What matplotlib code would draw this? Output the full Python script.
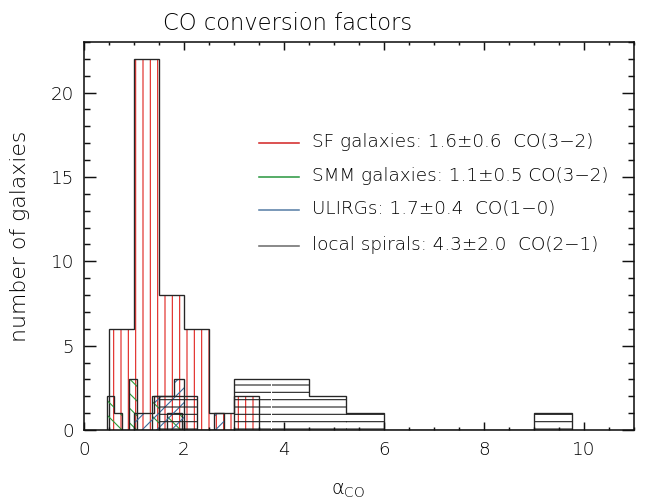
import numpy as np
import matplotlib
matplotlib.use("Agg")
import matplotlib.pyplot as plt
from matplotlib.ticker import MultipleLocator

# ---------------- data ----------------
sf_edges = [0.5, 1.0, 1.5, 2.0, 2.5, 3.0, 3.5]
sf_counts = [6, 22, 8, 6, 1, 2]

smm_edges = [0.45, 0.60, 0.75, 0.90, 1.05, 1.20, 1.35, 1.50, 1.65, 1.80, 1.95]
smm_counts = [2, 1, 0, 3, 0, 0, 2, 0, 1, 1]

ulirg_edges = [1.0, 1.2, 1.4, 1.6, 1.8, 2.0, 2.2, 2.4, 2.6, 2.8]
ulirg_counts = [1, 1, 2, 2, 3, 0, 0, 0, 1]

local_edges = [1.5, 2.25, 3.0, 3.75, 4.5, 5.25, 6.0, 6.75, 7.5, 8.25, 9.0, 9.75]
local_counts = [2, 0, 3, 3, 2, 1, 0, 0, 0, 0, 1]

legend_labels = [
    "SF galaxies: 1.6\u00b10.6  CO(3\u22122)",
    "SMM galaxies: 1.1\u00b10.5 CO(3\u22122)",
    "ULIRGs: 1.7\u00b10.4  CO(1\u22120)",
    "local spirals: 4.3\u00b12.0  CO(2\u22121)",
]
title = "CO conversion factors"
xlabel = r"$\alpha_{\rm CO}$"
ylabel = "number of galaxies"

# ---------------- figure ----------------
DPI = 88
W = 200  # light font weight
plt.rcParams['font.family'] = ['DejaVu Sans']
plt.rcParams['font.weight'] = W
plt.rcParams['hatch.linewidth'] = 0.9
plt.rcParams['mathtext.fontset'] = 'custom'
plt.rcParams['mathtext.rm'] = 'DejaVu Sans:extralight'
plt.rcParams['mathtext.it'] = 'DejaVu Sans:extralight'
plt.rcParams['mathtext.bf'] = 'DejaVu Sans:extralight'

fig = plt.figure(figsize=(649 / DPI, 503 / DPI), dpi=DPI)
L, R, T, B = 84, 634, 42, 430
ax = fig.add_axes([L / 649, 1 - B / 503, (R - L) / 649, (B - T) / 503])

outline = '#262626'
series = [
    (sf_edges, sf_counts, '#e0201c', '||'),
    (smm_edges, smm_counts, '#2a9a3a', '\\\\'),
    (ulirg_edges, ulirg_counts, '#3a6a9a', '//'),
    (local_edges, local_counts, '#202020', '--'),
]
for edges, counts, col, hatch in series:
    e = np.asarray(edges)
    ax.bar(e[:-1], counts, width=np.diff(e), align='edge', fill=False,
           hatch=hatch, edgecolor=col, linewidth=0)
    ax.stairs(counts, e, color=outline, linewidth=1.1, baseline=0)

ax.set_xlim(0, 11)
ax.set_ylim(0, 23)
ax.xaxis.set_major_locator(MultipleLocator(2))
ax.xaxis.set_minor_locator(MultipleLocator(0.5))
ax.yaxis.set_major_locator(MultipleLocator(5))
ax.yaxis.set_minor_locator(MultipleLocator(1))

for s in ax.spines.values():
    s.set_linewidth(1.3)
    s.set_color('#111111')

ax.tick_params(axis='both', which='both', direction='in', top=True, right=True,
               width=1.2, colors='#111111', labelsize=15, labelcolor='black')
ax.tick_params(axis='x', which='major', length=6.3, pad=9)
ax.tick_params(axis='x', which='minor', length=2.8)
ax.tick_params(axis='y', which='major', length=9.6, pad=8)
ax.tick_params(axis='y', which='minor', length=4.9)

ax.set_title(title, fontsize=18.5, pad=10, x=(288 - L) / (R - L), fontweight=W,
             color='black')
ax.set_ylabel(ylabel, fontsize=18, va='center', fontweight=W, color='black')
ax.yaxis.set_label_coords(-0.116, 0.50)
ax.set_xlabel(xlabel, fontsize=16, va='center', color='black')
ax.xaxis.set_label_coords(0.48, -0.155)

# legend drawn as short lines + labels
leg_colors = ['#d42a2a', '#2e9a44', '#5a80a8', '#6e6e6e']
line_y = [143, 177, 210, 246]
for lab, col, py in zip(legend_labels, leg_colors, line_y):
    yf = (B - py) / (B - T)
    ax.plot([(259 - L) / (R - L), (299 - L) / (R - L)], [yf, yf],
            transform=ax.transAxes, color=col, lw=1.3, clip_on=False)
    ax.text((312 - L) / (R - L), (B - py - 4) / (B - T), lab,
            transform=ax.transAxes, fontsize=15, va='baseline', ha='left',
            fontweight=W, color='black')

fig.savefig("out.png", dpi=DPI)
